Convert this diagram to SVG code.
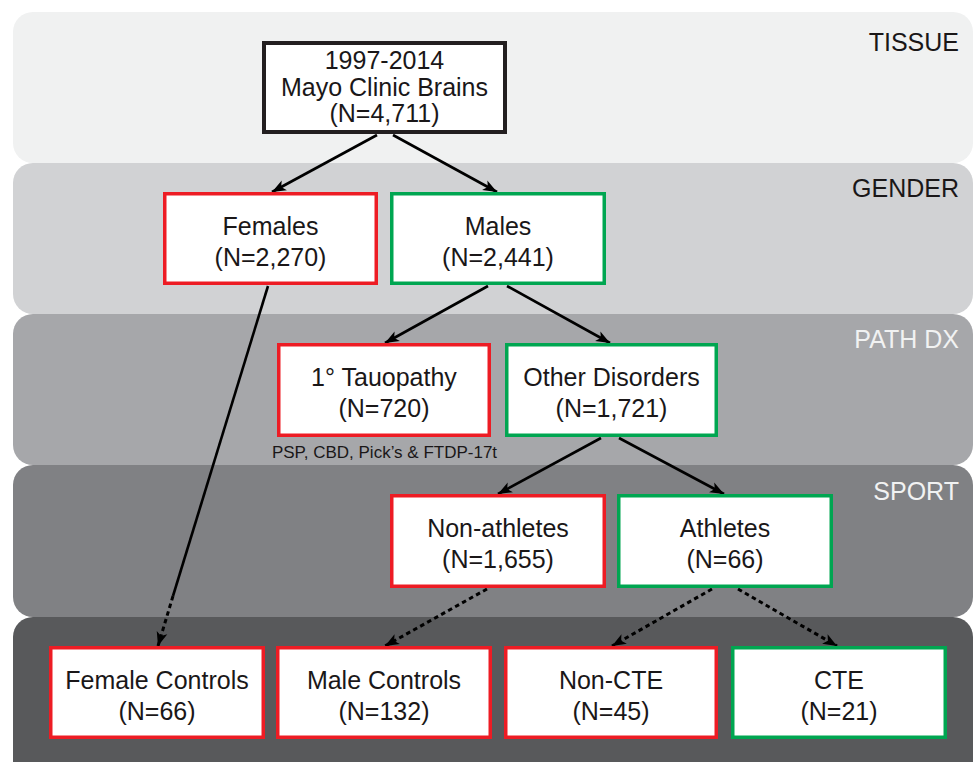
<svg xmlns="http://www.w3.org/2000/svg" width="974" height="762" viewBox="0 0 974 762">
<style>
text{font-family:"Liberation Sans",Arial,sans-serif;text-anchor:middle;fill:#1a1718}
.n{font-size:25px}
.band{font-size:25px;text-anchor:end}
.lt{fill:#f1f2f2}
.box{fill:#fff;stroke-width:3.5}
.r{stroke:#ed1c24}
.g{stroke:#00a651}
.k{stroke:#231f20;stroke-width:4}
.c{fill:none;stroke:#000;stroke-width:2.6}
.d{stroke-dasharray:4.5 3.5;stroke-width:3}
</style>
<defs>
<marker id="ah" markerUnits="userSpaceOnUse" markerWidth="15" markerHeight="12" refX="14" refY="6" orient="auto" viewBox="0 0 15 12">
<path d="M0,0.5 L14,6 L0,11.5 L3.5,6 Z" fill="#000"/>
</marker>
</defs>
<rect width="974" height="762" fill="#fff"/>
<g id="bands">
<rect x="13" y="12" width="960" height="151" rx="20" fill="#f0f1f1"/>
<rect x="13" y="163" width="960" height="151" rx="20" fill="#d1d2d4"/>
<rect x="13" y="314" width="960" height="151" rx="20" fill="#a6a7aa"/>
<rect x="13" y="465" width="960" height="152" rx="20" fill="#808184"/>
<rect x="13" y="617" width="960" height="170" rx="20" fill="#58595b"/>
<text class="band" x="959" y="51">TISSUE</text>
<text class="band" x="959" y="197">GENDER</text>
<text class="band lt" x="959" y="348">PATH DX</text>
<text class="band lt" x="959" y="500">SPORT</text>
</g>
<g id="connectors">
<line class="c" x1="377" y1="135" x2="272" y2="192" marker-end="url(#ah)"/>
<line class="c" x1="393" y1="135" x2="497" y2="192" marker-end="url(#ah)"/>
<line class="c" x1="488" y1="286" x2="385" y2="343" marker-end="url(#ah)"/>
<line class="c" x1="507" y1="286" x2="610" y2="343" marker-end="url(#ah)"/>
<line class="c" x1="601" y1="438" x2="498" y2="494" marker-end="url(#ah)"/>
<line class="c" x1="619" y1="438" x2="724" y2="494" marker-end="url(#ah)"/>
<line class="c" x1="268" y1="286" x2="173" y2="596"/>
<line class="c d" x1="173" y1="596" x2="158" y2="646" marker-end="url(#ah)"/>
<line class="c d" x1="487" y1="589" x2="385" y2="646" marker-end="url(#ah)"/>
<line class="c d" x1="712" y1="589" x2="612" y2="646" marker-end="url(#ah)"/>
<line class="c d" x1="738" y1="589" x2="837" y2="646" marker-end="url(#ah)"/>
</g>
<g id="n-tissue">
<rect class="box k" x="264" y="43" width="241" height="89"/>
<text class="n" x="384.5" y="69">1997-2014</text>
<text class="n" x="384.5" y="96">Mayo Clinic Brains</text>
<text class="n" x="384.5" y="122">(N=4,711)</text>
</g>
<g id="n-females">
<rect class="box r" x="164.75" y="193.75" width="211.5" height="89.5"/>
<text class="n" x="270.5" y="235">Females</text>
<text class="n" x="270.5" y="266">(N=2,270)</text>
</g>
<g id="n-males">
<rect class="box g" x="391.75" y="193.75" width="212.5" height="89.5"/>
<text class="n" x="498" y="235">Males</text>
<text class="n" x="498" y="266">(N=2,441)</text>
</g>
<g id="n-tauopathy">
<rect class="box r" x="278.75" y="344.75" width="210.5" height="90.5"/>
<text class="n" x="384" y="386">1° Tauopathy</text>
<text class="n" x="384" y="417">(N=720)</text>
<text x="384.5" y="458" style="font-size:17px">PSP, CBD, Pick’s &amp; FTDP-17t</text>
</g>
<g id="n-other">
<rect class="box g" x="506.75" y="344.75" width="209.5" height="90.5"/>
<text class="n" x="611.5" y="386">Other Disorders</text>
<text class="n" x="611.5" y="417">(N=1,721)</text>
</g>
<g id="n-nonathletes">
<rect class="box r" x="391.75" y="495.75" width="212.5" height="90.5"/>
<text class="n" x="498" y="537">Non-athletes</text>
<text class="n" x="498" y="568">(N=1,655)</text>
</g>
<g id="n-athletes">
<rect class="box g" x="618.75" y="495.75" width="212.5" height="90.5"/>
<text class="n" x="725" y="537">Athletes</text>
<text class="n" x="725" y="568">(N=66)</text>
</g>
<g id="n-femalecontrols">
<rect class="box r" x="50.75" y="647.75" width="212.5" height="89.5"/>
<text class="n" x="157" y="689">Female Controls</text>
<text class="n" x="157" y="720">(N=66)</text>
</g>
<g id="n-malecontrols">
<rect class="box r" x="277.75" y="647.75" width="212.5" height="89.5"/>
<text class="n" x="384" y="689">Male Controls</text>
<text class="n" x="384" y="720">(N=132)</text>
</g>
<g id="n-noncte">
<rect class="box r" x="505.75" y="647.75" width="210.5" height="89.5"/>
<text class="n" x="611" y="689">Non-CTE</text>
<text class="n" x="611" y="720">(N=45)</text>
</g>
<g id="n-cte">
<rect class="box g" x="732.75" y="647.75" width="212.5" height="89.5"/>
<text class="n" x="839" y="689">CTE</text>
<text class="n" x="839" y="720">(N=21)</text>
</g>
</svg>
